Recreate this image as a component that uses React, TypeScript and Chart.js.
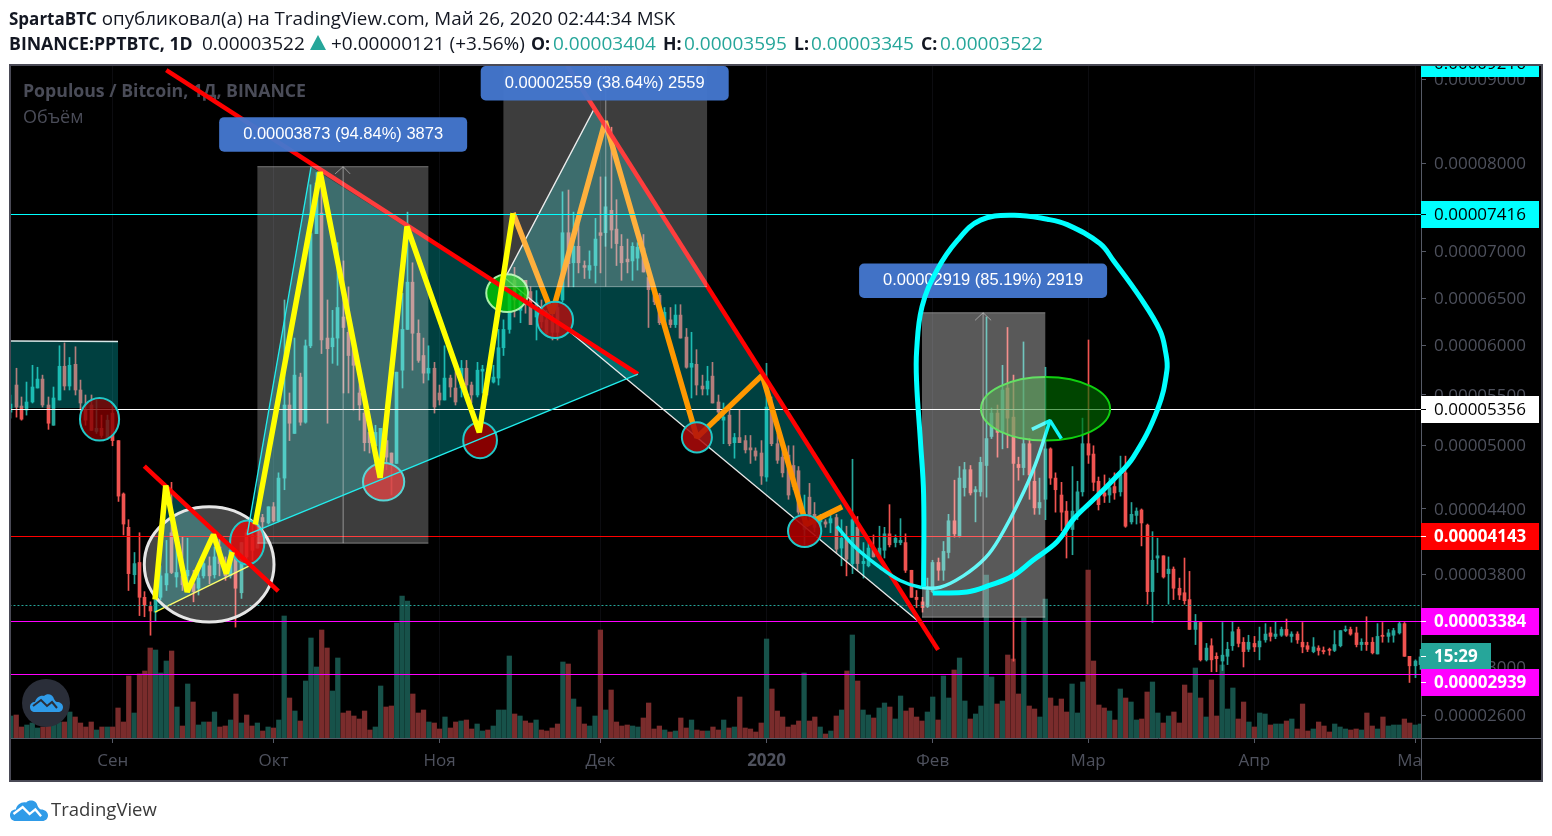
import React, { useEffect, useRef } from "react";
import { Chart, registerables, LinearScale } from "chart.js";

// Day index: 0 = 1 Sep 2019. Prices in satoshi (1e-8 BTC).
const firstDay = -19;
const opens = [
  5330,5600,5390,5350,5430,5570,5660,5400,5200,5450,
  5790,5590,5810,5550,5350,5400,5140,5170,5080,5320,
  5050,4540,4230,3800,3910,3600,3520,3470,3600,3710,
  4180,3780,3790,3790,3720,3680,3790,3880,3800,4050,
  3880,3790,3960,3640,4180,4160,4040,4320,4270,4420,
  4290,4690,5400,5120,5680,5230,6000,7200,7430,6080,
  5990,6080,6300,6140,6020,5520,5320,5130,5000,4800,
  5050,4930,4830,5750,6170,6670,6130,5900,5720,5770,
  5520,5450,5670,5570,5570,5770,5600,5500,5740,5730,
  5630,5670,5980,6170,6690,6370,6690,6570,6300,6400,
  6270,6290,6400,6480,7210,6880,7060,6850,6800,6850,
  7210,7210,7460,7250,7060,6920,6900,6930,7040,6720,
  6590,6530,6220,6270,6220,6320,6090,5780,5810,5590,
  5560,5690,5430,5250,5300,5030,5080,5050,4980,4950,
  4930,4700,5380,5020,4890,4910,4810,4760,4210,4510,
  4350,4280,4280,4270,4320,4040,4140,3900,4230,3900,
  3880,4040,3960,4020,4170,4090,4090,4090,3840,3600,
  3560,3520,3650,3910,3840,4000,4290,4150,4600,4770,
  4560,4560,4810,5090,5320,5130,5570,5280,4820,4790,
  5020,4660,4410,4490,4970,4690,4530,4380,4210,4370,
  4560,5020,4920,4660,4550,4530,4610,4560,4740,4280,
  4340,4390,4250,3650,3950,3970,3810,3850,3680,3640,
  3580,3320,3380,3060,3180,3090,3050,3090,3180,3320,
  3210,3150,3200,3170,3230,3290,3260,3270,3320,3260,
  3280,3210,3180,3130,3160,3140,3150,3140,3180,3310,
  3320,3290,3190,3210,3210,3110,3270,3260,3270,3290,
  3370,3090,3010,3020,
];
const highs = [
  5500,5770,5480,5630,5800,5780,5700,5480,5580,6000,
  6030,5880,5990,5650,5500,5500,5450,5300,5300,5400,
  5050,4550,4300,4000,4180,3650,3560,3580,3880,4110,
  4650,4140,4140,4130,3840,3870,3990,3960,4050,4120,
  3960,4120,4000,4090,4210,4260,4350,4350,4420,4460,
  4740,6480,5520,6080,5720,6060,7750,7890,7920,6480,
  6370,7100,6900,6620,6020,5680,5420,5250,5200,5170,
  5200,4930,5730,6550,7440,6880,6270,6080,6000,5830,
  5600,6000,5700,5770,5850,5850,5630,5830,5800,5770,
  5800,6170,6270,6580,6830,6580,6690,6620,6580,6480,
  6370,6430,6450,7670,7690,7440,7300,6900,7010,7370,
  7840,7840,8420,7580,7190,7140,7100,7100,7190,6870,
  6620,6550,6400,6400,6430,6430,6180,6140,5960,5700,
  5790,5830,5500,5420,5350,5120,5350,5100,5100,4980,
  5050,5820,5480,5120,5000,5000,5000,4800,4530,4640,
  4460,4350,4300,4350,4350,4300,4240,4870,4330,4090,
  4090,4160,4240,4230,4440,4160,4310,4170,3840,3660,
  3600,3770,3930,3950,4100,4350,4670,4800,4840,4810,
  4610,4890,6300,5370,5400,5800,6190,5700,4890,6040,
  5070,4770,4690,5780,4980,4740,4650,4470,4800,4660,
  5270,6060,5000,4700,4720,4690,4740,4900,4900,4460,
  4410,4400,4260,4190,4130,3970,3960,3870,3770,3950,
  3830,3450,3390,3200,3240,3120,3380,3210,3390,3340,
  3250,3270,3260,3340,3370,3340,3390,3340,3410,3300,
  3300,3380,3210,3250,3180,3170,3160,3310,3310,3350,
  3340,3340,3240,3430,3250,3370,3380,3320,3330,3390,
  3380,3090,3060,3150,
];
const lows = [
  5270,5280,5250,5300,5420,5570,5380,5160,5200,5450,
  5550,5550,5500,5350,5200,5150,5120,5080,5060,5000,
  4470,4160,3660,3720,3440,3430,3270,3390,3580,3660,
  3810,3690,3660,3720,3560,3620,3770,3720,3770,3790,
  3750,3770,3340,3590,3900,3930,4040,4160,4260,4280,
  4280,4580,5050,5120,5200,5220,5980,7200,5920,5220,
  5820,5800,5520,5520,5350,5250,4950,4930,4770,4690,
  4770,4530,4830,5570,6170,5750,5830,5620,5650,5320,
  5400,5450,5480,5400,5480,5520,5420,5480,5520,5500,
  5620,5600,5900,6130,6300,6240,6340,6220,6060,6190,
  6100,6060,6060,6460,6620,6620,6770,6710,6710,6660,
  6770,7060,7040,6850,6690,6770,6690,6800,6780,6190,
  6430,6220,6190,6190,6190,6080,5770,5470,5500,5500,
  5500,5420,5250,5020,5000,4880,5030,4930,4830,4860,
  4630,4660,5000,4830,4700,4490,4580,4350,4050,4300,
  4190,4230,4230,4180,4000,3880,3790,3810,3840,3770,
  3870,3960,3950,3950,4050,4050,4070,3820,3600,3510,
  3470,3510,3640,3750,3750,3950,4140,4140,4520,4530,
  4280,4520,4510,5070,4890,4970,4980,3050,4670,4720,
  4490,4350,4350,4300,4630,4370,4200,3950,3980,4300,
  4520,4830,4570,4390,4460,4460,4490,4520,4230,4260,
  4260,4060,3540,3380,3820,3770,3540,3580,3580,3540,
  3320,3190,3050,3050,2960,2960,2970,3020,3140,3170,
  3000,3130,3130,3060,3210,3220,3240,3260,3260,3210,
  3200,3120,3130,3120,3100,3110,3100,3130,3170,3300,
  3270,3170,3140,3140,3110,3110,3210,3210,3210,3280,
  3090,2870,2910,2980,
];
const closes = [
  5410,5380,5260,5430,5580,5660,5400,5220,5470,5790,
  5590,5800,5550,5420,5250,5150,5170,5100,5250,5050,
  4520,4260,3810,3900,3600,3530,3480,3580,3790,3810,
  3820,3820,3710,3840,3650,3770,3900,3790,3960,3900,
  3790,4020,3680,4090,3960,4020,4260,4280,4420,4290,
  4690,5400,5220,5700,5230,6000,7200,7770,6060,5970,
  6080,6400,6190,5900,5800,5400,5030,5030,5130,5170,
  4890,4830,5730,6170,6670,6130,5850,5720,5770,5380,
  5450,5670,5580,5430,5770,5600,5500,5750,5760,5670,
  5680,5980,6170,6580,6480,6550,6450,6220,6450,6250,
  6130,6140,6140,7210,6870,7060,6880,6830,6850,7140,
  7180,7500,7240,7090,6880,6890,7060,7050,6780,6590,
  6460,6240,6350,6220,6320,6080,5780,5820,5600,5560,
  5640,5420,5330,5280,5020,5080,5030,4960,4960,4900,
  4710,5380,5020,4860,4740,4530,4610,4370,4350,4350,
  4230,4320,4260,4310,4030,4130,3940,4300,3900,3920,
  4040,3960,4040,4170,4070,4130,4110,3840,3600,3580,
  3510,3660,3910,3840,4010,4290,4170,4690,4770,4550,
  4580,4840,5070,5320,5130,5550,5270,4830,4790,5020,
  4720,4410,4460,4970,4690,4580,4370,4210,4380,4560,
  5020,4910,4650,4440,4520,4600,4550,4720,4240,4350,
  4380,4270,3650,3930,3970,3780,3850,3680,3620,3570,
  3320,3390,3060,3160,3060,3070,3100,3150,3300,3200,
  3130,3210,3170,3220,3280,3260,3280,3320,3270,3280,
  3230,3170,3150,3170,3140,3130,3140,3190,3310,3320,
  3280,3190,3210,3190,3120,3260,3260,3290,3310,3370,
  3090,3010,3050,3085,
];
const volumes = [
  22,23,11,13,15,10,11,12,14,16,
  16,26,21,15,11,16,8,11,11,11,
  30,16,62,25,64,67,90,88,65,77,
  87,31,12,54,36,13,16,16,26,11,
  12,18,44,15,23,12,15,7,11,10,
  18,122,40,27,17,57,100,71,108,90,
  47,80,25,27,22,19,27,8,11,52,
  31,32,115,142,137,44,25,28,16,15,
  9,21,10,16,17,18,9,14,7,8,
  12,28,28,82,24,22,17,15,18,8,
  7,10,14,76,74,39,31,14,12,22,
  108,28,48,16,12,13,12,11,20,35,
  9,12,8,6,7,20,10,18,8,7,
  7,11,8,18,10,11,41,10,9,6,
  15,99,49,27,21,11,13,17,65,17,
  21,11,4,7,22,28,67,103,57,28,
  23,20,30,35,31,19,42,27,30,21,
  17,26,41,18,62,40,68,80,37,19,
  24,32,163,61,34,37,83,79,44,120,
  32,29,21,139,40,32,39,26,54,25,
  56,168,77,33,30,27,18,49,40,36,
  18,19,46,56,25,15,22,26,15,53,
  45,70,40,21,58,22,73,29,50,19,
  36,16,11,25,24,13,14,14,17,19,
  9,34,7,9,16,12,6,14,11,9,
  8,9,8,25,12,9,21,12,13,13,
  19,15,13,14,
];

const monthDays = [0, 30, 61, 91, 122, 153, 182, 213, 243];
const monthLabels = ["Сен", "Окт", "Ноя", "Дек", "2020", "Фев", "Мар", "Апр", "Май"];
const priceTicks = [2600, 3000, 3800, 4400, 5000, 5500, 6000, 6500, 7000, 8000, 9000];

// Horizontal levels [price]
const cyanLevel = 7416, whiteLevel = 5356, redLevel = 4143, magentaHigh = 3384, magentaLow = 2939, lastPrice = 3522;
const axisLabelPrices = [9216, 7416, 5356, 4143, 3384, 2939];
const axisLabelFills = ["#00ffff", "#00ffff", "#ffffff", "#ff0000", "#ff00ff", "#ff00ff"];
const axisLabelInk = ["#000000", "#000000", "#000000", "#ffffff", "#ffffff", "#ffffff"];
const axisLabelShift = [2, 0, 0, 0, 0, 8];
const timerPrice = 3085;

// Drawings, each point = [day, price]
const tealRect = [[-19.1, 5370], [-19.1, 6050], [1, 6045], [1, 5370]];
const tealRectTop = [[-19.1, 6050], [1, 6045]];
const triangleUp = [[25.1, 4163], [37, 7954], [98, 5710]];
const triangleSmall = [[7.9, 3470], [9.8, 4637], [25.7, 3884]];
const triangleDown = [[73.2, 6714], [90, 8660], [150.7, 3376]];
const boxA = [[27, 4085], [27, 7958], [58.9, 7958], [58.9, 4085]];
const boxB = [[72.9, 6622], [72.9, 9181], [110.9, 9181], [110.9, 6622]];
const boxC = [[151, 3426], [151, 6345], [174, 6345], [174, 3426]];
const boxABase = [[27, 4085], [58.9, 4085]];
const boxBBase = [[72.9, 6622], [110.9, 6622]];
const boxCBase = [[151, 3426], [174, 3426]];
const arrowAStem = [[43, 4085], [43, 7958]];
const arrowAHead = [[41.5, 7875], [43, 7958], [44.3, 7875]];
const arrowBStem = [[92, 6622], [92, 9181]];
const arrowBHead = [[90.5, 9070], [92, 9181], [93.5, 9070]];
const arrowCStem = [[162.4, 3426], [162.4, 6345]];
const arrowCHead = [[160.9, 6265], [162.4, 6345], [163.9, 6265]];
const cyanEdgeA = [[25.1, 4163], [37, 7954]];
const cyanEdgeB = [[25.1, 4163], [98, 5710]];
const yellowEdge = [[7.9, 3470], [25.7, 3884]];
const whiteEdgeA = [[73.2, 6714], [90, 8660]];
const whiteEdgeB = [[73.2, 6714], [150.7, 3376]];
const redTrendA = [[10, 9110], [98, 5710]];
const redTrendB = [[84.8, 9165], [154, 3145]];
const redTrendC = [[5.9, 4805], [30.9, 3655]];
const yellowSmall = [[7.9, 3580], [9.9, 4620], [13.9, 3647], [18.8, 4163], [21.2, 3809], [22.3, 4005]];
const yellowBig = [[26.6, 4256], [38.7, 7897], [49.9, 4693], [54.9, 7280], [68.4, 5130], [74.7, 7427]];
const orangePath = [[74.7, 7430], [82, 6340], [91.9, 8490], [109, 5080], [121.2, 5700], [129.4, 4256], [136.1, 4420]];
const cyanLoop = [
  [153, 3638], [159.4, 3647], [163.7, 3707], [168, 3791], [171.7, 3930], [176.2, 4097], [179.2, 4302],
  [183, 4488], [186.7, 4675], [190.4, 4888], [194.9, 5350], [196.7, 5750], [196.4, 5950], [195.4, 6159],
  [191.7, 6507], [186.7, 6905], [184.2, 7090], [178.1, 7300], [174.4, 7360], [168, 7405], [161.9, 7350], [157.6, 7125],
  [153.8, 6800], [151, 6408], [150, 5950], [150, 5620], [150.7, 5050], [151.3, 4535], [151.3, 3690],
];
const cyanArc = [
  [135.1, 4238], [138.5, 4050], [143.2, 3865], [146.9, 3749], [150.7, 3689], [154.4, 3689], [158.7, 3790],
  [162.8, 3950], [165.6, 4143], [169.3, 4490], [172.1, 4814], [174.9, 5246],
];
const cyanArcHead = [[171.5, 5160], [174.9, 5246], [177, 5070]];

// Ellipses: day from, day to, top price, bottom price
const ellipseWhite = [5.9, 30.1, 4420, 3384];
const ellipsesRed = [
  [-6.1, 1.2, 5470, 5050], [21.9, 28.3, 4293, 3893], [46.7, 54.4, 4833, 4478], [65.4, 71.7, 5230, 4880],
  [79.2, 85.9, 6460, 6080], [106.2, 111.8, 5230, 4935], [126, 132.2, 4344, 4050],
];
const ellipsesRedFill = [
  "rgba(130,0,0,0.8)", "rgba(225,10,10,0.85)", "rgba(200,10,10,0.85)", "rgba(150,0,0,0.9)",
  "rgba(175,15,15,0.85)", "rgba(175,10,10,0.85)", "rgba(170,0,0,0.9)",
];
const ellipseGreenSmall = [69.7, 77.5, 6756, 6353];
const ellipseGreenBig = [162, 186.1, 5680, 5050];

// Callouts
const calloutTexts = ["0.00003873 (94.84%) 3873", "0.00002559 (38.64%) 2559", "0.00002919 (85.19%) 2919"];
const calloutDays = [43, 91.8, 162.4];
const calloutTopPrices = [8540, 9165, 6873];

const UP = "#26a69a", DOWN = "#ef5350", VOL_UP = "#17524a", VOL_DOWN = "#7a2c2c";
const AXIS_TEXT = "#4e515d", AXIS_LINE = "#565a66";
const FONT = '"Open Sans", sans-serif';

class DayScale extends LinearScale {
  static id = "dayscale";
  static defaults = LinearScale.defaults;
  getPixelForValue(v: number) {
    const p = super.getPixelForValue(v);
    const snap = (this.options as any).snap;
    return snap === undefined ? p : Math.round(p - snap) + snap;
  }
}
const LOG_SHIFT = 10300;
class PriceScale extends LinearScale {
  static id = "pricescale";
  static defaults = LinearScale.defaults;
  getPixelForValue(v: number) {
    const a = Math.log(this.min + LOG_SHIFT), b = Math.log(this.max + LOG_SHIFT);
    const p = this.getPixelForDecimal((Math.log(v + LOG_SHIFT) - a) / (b - a));
    return (this.options as any).rows ? Math.floor(p - 0.2) + 0.5 : p;
  }
  getValueForPixel(px: number) {
    const a = Math.log(this.min + LOG_SHIFT), b = Math.log(this.max + LOG_SHIFT);
    return Math.exp(a + this.getDecimalForPixel(px) * (b - a)) - LOG_SHIFT;
  }
}
Chart.register(...registerables, DayScale, PriceScale);

const toPoints = (rows: number[][]) => rows.map(([x, y]) => ({ x, y }));
const days = opens.map((_, i) => firstDay + i);
const lastDay = days[days.length - 1];

function buildDatasets() {
  const list: any[] = [];
  const isUp = (i: number) => closes[i] >= opens[i];
  list.push({
    type: "bar", label: "Объём", xAxisID: "x", yAxisID: "yv", grouped: false, barThickness: 4.6,
    data: days.map((x, i) => ({ x, y: volumes[i] })),
    backgroundColor: days.map((_, i) => (isUp(i) ? VOL_UP : VOL_DOWN)),
  });
  list.push({
    type: "bar", label: "wicks", xAxisID: "xc", yAxisID: "y", grouped: false, barThickness: 1,
    data: days.map((x, i) => ({ x, y: [lows[i], highs[i]] })),
    backgroundColor: days.map((_, i) => (isUp(i) ? UP : DOWN)),
  });
  list.push({
    type: "bar", label: "bodies", xAxisID: "xc", yAxisID: "y", grouped: false, barThickness: 3, minBarLength: 1,
    data: days.map((x, i) => ({ x, y: [opens[i], closes[i]] })),
    backgroundColor: days.map((_, i) => (isUp(i) ? UP : DOWN)),
  });
  const line = (label: string, rows: number[][], color: string, width: number, extra: any = {}) =>
    list.push({
      type: "line", label, data: toPoints(rows), xAxisID: "x", yAxisID: "y", borderColor: color, borderWidth: width,
      pointRadius: 0, fill: false, tension: 0, borderJoinStyle: "bevel", borderCapStyle: "butt", ...extra,
    });
  const shape = (label: string, rows: number[][], fillColor: string) =>
    line(label, rows, "rgba(0,0,0,0)", 0, { fill: "shape", backgroundColor: fillColor });

  shape("tealRect", tealRect, "rgba(0,255,255,0.25)");
  shape("triangleUp", triangleUp, "rgba(0,255,255,0.25)");
  shape("triangleSmall", triangleSmall, "rgba(0,255,255,0.25)");
  shape("triangleDown", triangleDown, "rgba(0,255,255,0.25)");
  line("tealRectTop", tealRectTop, "#d8e8e8", 1.5);
  line("yellowEdge", yellowEdge, "#ffff33", 1.3);
  line("whiteEdgeA", whiteEdgeA, "#e8e8e8", 1.3);
  line("whiteEdgeB", whiteEdgeB, "#e8e8e8", 1.3);
  const level = (label: string, price: number, color: string, extra: any = {}) =>
    line(label, [[firstDay - 1, price], [lastDay + 1, price]], color, 1, { yAxisID: "yl", ...extra });
  level("whiteLevel", whiteLevel, "#ffffff");
  level("redLevel", redLevel, "#ff0000");
  level("magentaHigh", magentaHigh, "#ff00ff");
  level("magentaLow", magentaLow, "#ff00ff");
  level("lastPrice", lastPrice, "#26a69a", { borderDash: [2, 2] });
  line("orange", orangePath, "#ff9800", 5.5);
  line("redTrendA", redTrendA, "#ff0000", 4.5);
  line("redTrendC", redTrendC, "#ff0000", 4.5);
  line("redTrendB", redTrendB, "#ff0000", 4.5);
  line("cyanArc", cyanArc, "#10f5f5", 3.5, { tension: 0.4, capBezierPoints: false });
  line("cyanArcHead", cyanArcHead, "#10f5f5", 3.5);
  shape("boxA", boxA, "rgba(255,255,255,0.24)");
  shape("boxB", boxB, "rgba(255,255,255,0.24)");
  shape("boxC", boxC, "rgba(255,255,255,0.35)");
  const boxLine = "rgba(255,255,255,0.4)";
  line("boxABase", boxABase, boxLine, 1);
  line("boxATop", [boxA[1], boxA[2]], boxLine, 1);
  line("boxBBase", boxBBase, boxLine, 1);
  line("boxCBase", boxCBase, boxLine, 1);
  line("boxCTop", [boxC[1], boxC[2]], boxLine, 1);
  const arrowLine = "rgba(220,220,220,0.55)";
  line("arrowAStem", arrowAStem, arrowLine, 1);
  line("arrowAHead", arrowAHead, arrowLine, 1);
  line("arrowBStem", arrowBStem, arrowLine, 1);
  line("arrowBHead", arrowBHead, arrowLine, 1);
  line("arrowCStem", arrowCStem, arrowLine, 1);
  line("arrowCHead", arrowCHead, arrowLine, 1);
  level("cyanLevel", cyanLevel, "#00ffff");
  line("cyanEdgeA", cyanEdgeA, "#22eeee", 1.3);
  line("cyanEdgeB", cyanEdgeB, "#22eeee", 1.3);
  line("yellowSmall", yellowSmall, "#ffff00", 5.5);
  line("yellowBig", yellowBig, "#ffff00", 5.5);
  line("cyanLoop", cyanLoop, "#00ffff", 5, { tension: 0.4, capBezierPoints: false });
  list.forEach((d, i) => (d.order = list.length - i));
  return list;
}

function ellipse(chart: any, box: number[], fill: string, stroke: string, width: number) {
  const { ctx, scales } = chart;
  const x0 = scales.x.getPixelForValue(box[0]), x1 = scales.x.getPixelForValue(box[1]);
  const y0 = scales.y.getPixelForValue(box[2]), y1 = scales.y.getPixelForValue(box[3]);
  ctx.save();
  ctx.beginPath();
  ctx.ellipse((x0 + x1) / 2, (y0 + y1) / 2, (x1 - x0) / 2, (y1 - y0) / 2, 0, 0, Math.PI * 2);
  ctx.fillStyle = fill;
  ctx.fill();
  ctx.lineWidth = width;
  ctx.strokeStyle = stroke;
  ctx.stroke();
  ctx.restore();
}

const drawingsPlugin = {
  id: "drawings",
  beforeDraw(chart: any) {
    const { ctx } = chart;
    ctx.save();
    ctx.fillStyle = "#ffffff";
    ctx.fillRect(0, 0, 1552, 836);
    ctx.fillStyle = "#000000";
    ctx.fillRect(10, 65, 1532, 716);
    ctx.restore();
  },
  beforeDatasetsDraw(chart: any) {
    const { ctx } = chart;
    ctx.save();
    ctx.fillStyle = "#4a4c58";
    ctx.textBaseline = "middle";
    ctx.font = `bold 17.7px ${FONT}`;
    ctx.fillText("Populous / Bitcoin, 1Д, BINANCE", 23, 92);
    ctx.font = `18px ${FONT}`;
    ctx.fillText("Объём", 23, 118);
    ctx.restore();
  },
  afterDatasetDraw(chart: any, args: any) {
    const label = chart.data.datasets[args.index].label;
    const { ctx, scales } = chart;
    if (label === "orange") {
      ellipse(chart, ellipseWhite, "rgba(255,255,255,0.27)", "#e6e6e6", 3);
      ellipsesRed.forEach((b, i) => ellipse(chart, b, ellipsesRedFill[i], "#22c8c8", 2));
      ellipse(chart, ellipseGreenSmall, "rgba(0,200,0,0.8)", "#a8f0a8", 2);
      ellipse(chart, ellipseGreenBig, "rgba(0,110,0,0.63)", "#10d010", 2);
    }
    if (label === "arrowCHead") {
      ctx.save();
      calloutTexts.forEach((t, i) => {
        const cx = scales.x.getPixelForValue(calloutDays[i]);
        const top = Math.max(66, scales.y.getPixelForValue(calloutTopPrices[i]));
        ctx.fillStyle = "rgba(68,119,206,0.96)";
        ctx.beginPath();
        ctx.roundRect(cx - 124, top, 248, 34.5, 5);
        ctx.fill();
        ctx.fillStyle = "#ffffff";
        ctx.font = '16.5px "Liberation Sans", Arial, sans-serif';
        ctx.textAlign = "center";
        ctx.textBaseline = "middle";
        ctx.fillText(t, cx, top + 17);
      });
      ctx.restore();
    }
  },
  afterDraw(chart: any) {
    const { ctx, scales } = chart;
    ctx.save();
    ctx.fillStyle = "#000000";
    ctx.fillRect(1422, 745, 119, 35);
    ctx.strokeStyle = AXIS_LINE;
    ctx.lineWidth = 1;
    ctx.beginPath();
    ctx.moveTo(1421.5, 66);
    ctx.lineTo(1421.5, 780);
    ctx.moveTo(11, 738.5);
    ctx.lineTo(1541, 738.5);
    ctx.stroke();
    ctx.strokeStyle = "#4a4a56";
    ctx.lineWidth = 2;
    ctx.strokeRect(10, 65, 1532, 716);
    ctx.beginPath();
    ctx.rect(11, 66, 1530, 714);
    ctx.clip();
    ctx.textBaseline = "middle";
    const tag = (y: number, fill: string, ink: string, text: string, bold: boolean, x1: number) => {
      ctx.fillStyle = fill;
      ctx.fillRect(1421, y - 13.5, x1 - 1421, 27);
      ctx.fillStyle = ink;
      ctx.fillRect(1421, y - 0.5, 5, 1);
      ctx.font = `${bold ? "bold " : ""}17px ${FONT}`;
      ctx.textAlign = "left";
      ctx.fillText(text, 1434, y + 1);
    };
    tag(scales.yl.getPixelForValue(timerPrice), UP, "#ffffff", "15:29", true, 1491);
    axisLabelPrices.forEach((p, i) => {
      const y = scales.yl.getPixelForValue(p) + axisLabelShift[i];
      tag(y, axisLabelFills[i], axisLabelInk[i], (p / 1e8).toFixed(8), axisLabelInk[i] === "#ffffff", 1539);
    });
    ctx.restore();
  },
};

function CloudLogo({ width, height, line }: { width: number; height: number; line: string }) {
  return (
    <svg width={width} height={height} viewBox="0 0 33 19" style={{ display: "block" }}>
      <path
        d="M5 19C2 19 0 17 0 14C0 11 2 9 5 9C6 5 10 2 14 3C17 0 23 1 24 6C25 8 26 9 27 9C30 9 33 11 33 14C33 17 31 19 28 19Z"
        fill="#2f9be8"
      />
      <polyline points="3,13 11,7 17,13 22,9 27,15" fill="none" stroke={line} strokeWidth="2" />
    </svg>
  );
}

export default function App() {
  const ref = useRef<HTMLCanvasElement>(null);
  useEffect(() => {
    document.body.style.margin = "0";
    document.body.style.background = "#ffffff";
    const priceRange = { min: 2415, max: 9160, bounds: "data" };
    const dayRange = { min: -18.97, max: 244.1, offset: false, bounds: "data" };
    const chart = new Chart(ref.current as HTMLCanvasElement, {
      type: "bar",
      data: { datasets: buildDatasets() },
      plugins: [drawingsPlugin],
      options: {
        animation: false,
        responsive: false,
        events: [],
        layout: { padding: { left: 11, right: 12, top: 66, bottom: 56 } },
        plugins: { legend: { display: false }, tooltip: { enabled: false } },
        scales: {
          x: {
            type: "dayscale", position: "bottom", ...dayRange,
            afterBuildTicks: (axis: any) => { axis.ticks = monthDays.map((value) => ({ value })); },
            afterFit: (axis: any) => { axis.height = 42; },
            grid: { color: "#0c0c10", tickColor: AXIS_LINE, tickLength: 5, drawTicks: true, offset: false },
            border: { display: false },
            ticks: {
              autoSkip: false, maxRotation: 0, padding: 8, color: AXIS_TEXT,
              font: (c: any) => ({ family: FONT, size: 17, weight: c.tick && c.tick.value === 122 ? "bold" : "normal" }),
              callback: (v: number) => monthLabels[monthDays.indexOf(v)],
            },
          },
          xc: { type: "dayscale", snap: 0.5, display: false, position: "bottom", axis: "x", ...dayRange },
          y: {
            type: "pricescale", position: "right", ...priceRange,
            afterBuildTicks: (axis: any) => { axis.ticks = priceTicks.map((value) => ({ value })); },
            afterFit: (axis: any) => { axis.width = 119; },
            grid: { drawOnChartArea: false, tickColor: AXIS_LINE, tickLength: 5 },
            border: { display: false },
            ticks: {
              autoSkip: false, padding: 8, labelOffset: 0.8, color: AXIS_TEXT, font: { family: FONT, size: 17 },
              callback: (v: number) => (v / 1e8).toFixed(8),
            },
          },
          yl: { type: "pricescale", rows: true, display: false, position: "right", axis: "y", ...priceRange },
          yv: { type: "linear", display: false, min: 0, max: 672, position: "right", axis: "y", bounds: "data" },
        },
      } as any,
    });
    return () => chart.destroy();
  }, []);

  const base: React.CSSProperties = {
    position: "absolute", whiteSpace: "nowrap", fontFamily: FONT, color: "#131722", lineHeight: "24px",
  };
  const row2 = (x: number, text: string, kind: "bold" | "plain" | "teal") => (
    <span
      style={{
        ...base, left: x, top: 31,
        fontSize: kind === "bold" ? 17.7 : 19,
        fontWeight: kind === "bold" ? 700 : 400,
        color: kind === "teal" ? UP : "#131722",
      }}
    >
      {text}
    </span>
  );
  return (
    <div style={{ position: "relative", width: 1552, height: 836, overflow: "hidden", background: "#fff" }}>
      <canvas ref={ref} width={1552} height={836} style={{ position: "absolute", left: 0, top: 0, display: "block" }} />
      <div style={{ ...base, left: 9, top: 6, fontSize: 18.8 }}>
        <b style={{ fontSize: 17 }}>SpartaBTC</b> опубликовал(а) на TradingView.com, Май 26, 2020 02:44:34 MSK
      </div>
      {row2(9, "BINANCE:PPTBTC, 1D", "bold")}
      {row2(202, "0.00003522", "plain")}
      <svg width={16} height={15} style={{ position: "absolute", left: 310, top: 35 }}>
        <polygon points="8,0 16,15 0,15" fill={UP} />
      </svg>
      {row2(331, "+0.00000121 (+3.56%)", "plain")}
      {row2(531, "O:", "bold")}
      {row2(553, "0.00003404", "teal")}
      {row2(663, "H:", "bold")}
      {row2(684, "0.00003595", "teal")}
      {row2(794, "L:", "bold")}
      {row2(811, "0.00003345", "teal")}
      {row2(921, "C:", "bold")}
      {row2(940, "0.00003522", "teal")}
      <div style={{ position: "absolute", left: 22, top: 679, width: 48, height: 48, borderRadius: 24, background: "#2a2e39" }}>
        <div style={{ position: "absolute", left: 8, top: 14 }}>
          <CloudLogo width={33} height={19} line="#2a2e39" />
        </div>
      </div>
      <div style={{ position: "absolute", left: 10, top: 798 }}>
        <CloudLogo width={38} height={24} line="#ffffff" />
      </div>
      <div style={{ ...base, left: 51, top: 797, fontSize: 18.5, color: "#3a3a3a" }}>TradingView</div>
    </div>
  );
}
